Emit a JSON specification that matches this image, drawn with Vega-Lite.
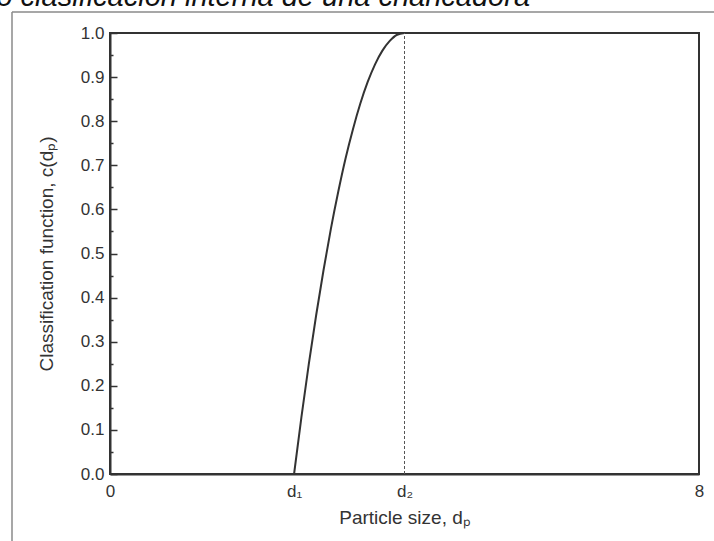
{
  "$schema": "https://vega.github.io/schema/vega-lite/v6.json",
  "autosize": {"type": "none"},
  "width": 589,
  "height": 441,
  "padding": {"left": 110, "top": 33, "right": 15, "bottom": 67},
  "background": "white",
  "config": {
    "view": {"stroke": "#333", "strokeWidth": 2},
    "font": "Liberation Sans",
    "axis": {
      "domainColor": "#333",
      "domainWidth": 2,
      "tickColor": "#333",
      "labelColor": "#333",
      "titleColor": "#333",
      "labelFont": "Liberation Sans",
      "titleFont": "Liberation Sans",
      "labelFontSize": 17,
      "titleFontSize": 19,
      "titleFontWeight": "normal",
      "grid": false
    }
  },
  "datasets": {
    "curve": [
      {"d": 2.5, "c": 0.0},
      {"d": 2.6, "c": 0.129},
      {"d": 2.7, "c": 0.249},
      {"d": 2.8, "c": 0.36},
      {"d": 2.9, "c": 0.462},
      {"d": 3.0, "c": 0.556},
      {"d": 3.1, "c": 0.64},
      {"d": 3.2, "c": 0.716},
      {"d": 3.3, "c": 0.782},
      {"d": 3.4, "c": 0.84},
      {"d": 3.5, "c": 0.889},
      {"d": 3.6, "c": 0.929},
      {"d": 3.7, "c": 0.96},
      {"d": 3.8, "c": 0.982},
      {"d": 3.9, "c": 0.996},
      {"d": 4.0, "c": 1.0}
    ],
    "one": [{}],
    "heading": [{"text": "o clasificación interna de una chancadora"}]
  },
  "resolve": {"scale": {"y": "independent"}, "axis": {"y": "independent"}},
  "layer": [
    {
      "data": {"name": "curve"},
      "mark": {"type": "line", "color": "#333", "strokeWidth": 2, "interpolate": "monotone"},
      "encoding": {
        "x": {
          "field": "d",
          "type": "quantitative",
          "scale": {"domain": [0, 8], "nice": false, "zero": false},
          "axis": {
            "values": [0, 2.5, 4, 8],
            "ticks": false,
            "labelPadding": 9,
            "labelFlush": false,
            "labelFontSize": 17,
            "labelExpr": "datum.value == 2.5 ? 'd₁' : datum.value == 4 ? 'd₂' : datum.value == 0 ? '0' : '8'",
            "title": "Particle size, dₚ",
            "titleFontSize": 19,
            "titlePadding": 9
          }
        },
        "y": {
          "field": "c",
          "type": "quantitative",
          "scale": {"domain": [0, 1], "nice": false},
          "axis": {
            "orient": "left",
            "values": [0, 0.1, 0.2, 0.3, 0.4, 0.5, 0.6, 0.7, 0.8, 0.9, 1.0],
            "format": ".1f",
            "tickSize": -7,
            "tickWidth": 1.5,
            "labelPadding": 13,
            "labelFontSize": 17,
            "title": "Classification function, c(dₚ)",
            "titleFontSize": 19,
            "titlePadding": 24
          }
        }
      }
    },
    {
      "data": {"name": "one"},
      "mark": {"type": "rule", "color": "#555", "strokeWidth": 1, "strokeDash": [3, 2]},
      "encoding": {
        "x": {"datum": 4, "type": "quantitative", "scale": {"domain": [0, 8], "nice": false, "zero": false}},
        "y": {
          "datum": 0,
          "type": "quantitative",
          "scale": {"domain": [0, 1], "nice": false},
          "axis": {
            "orient": "left",
            "values": [0.05, 0.15, 0.25, 0.35, 0.45, 0.55, 0.65, 0.75, 0.85, 0.95],
            "labels": false,
            "domain": false,
            "title": null,
            "tickSize": -3,
            "tickWidth": 1.5
          }
        },
        "y2": {"datum": 1}
      }
    },
    {
      "data": {"name": "one"},
      "mark": {"type": "rule", "color": "#8a8a8a", "strokeWidth": 1.5},
      "encoding": {
        "x": {"datum": -1.331, "type": "quantitative", "scale": {"domain": [0, 8], "nice": false, "zero": false}},
        "y": {"datum": -0.3, "type": "quantitative", "scale": {"domain": [0, 1], "nice": false}, "axis": null},
        "y2": {"datum": 1.0476}
      }
    },
    {
      "data": {"name": "one"},
      "mark": {"type": "rule", "color": "#8a8a8a", "strokeWidth": 1.5},
      "encoding": {
        "x": {"datum": -1.331, "type": "quantitative", "scale": {"domain": [0, 8], "nice": false, "zero": false}},
        "x2": {"datum": 8.5},
        "y": {"datum": 1.0476, "type": "quantitative", "scale": {"domain": [0, 1], "nice": false}, "axis": null}
      }
    },
    {
      "data": {"name": "heading"},
      "mark": {"type": "text", "align": "right", "baseline": "alphabetic", "font": "Liberation Sans", "fontStyle": "italic", "fontSize": 29, "color": "#111"},
      "encoding": {
        "x": {"datum": 5.705, "type": "quantitative", "scale": {"domain": [0, 8], "nice": false, "zero": false}},
        "y": {"datum": 1.0612, "type": "quantitative", "scale": {"domain": [0, 1], "nice": false}, "axis": null},
        "text": {"field": "text"}
      }
    }
  ]
}
